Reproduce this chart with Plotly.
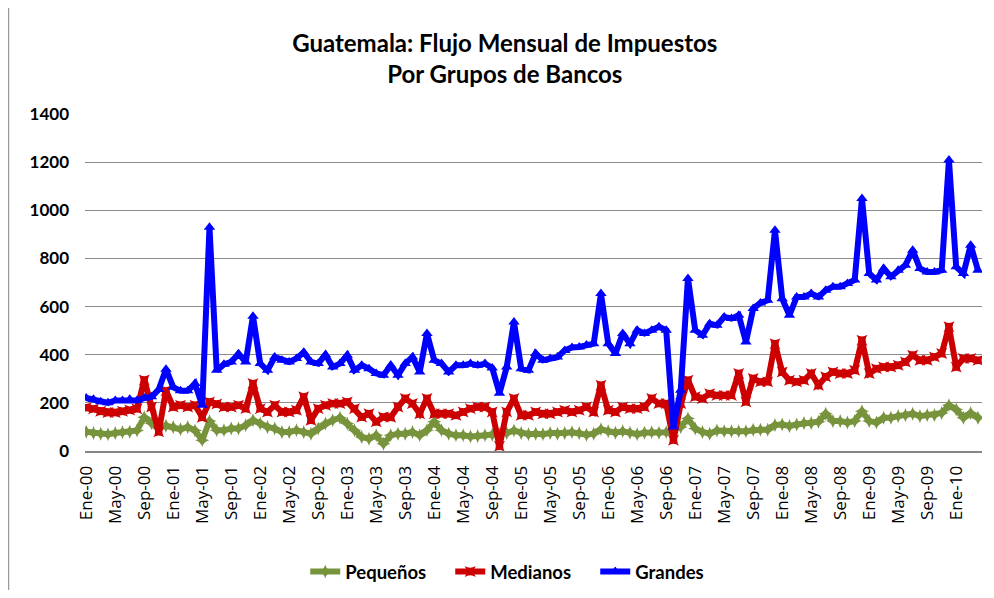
import plotly.graph_objects as go

meses = ["Ene", "Feb", "Mar", "Abr", "May", "Jun", "Jul", "Ago", "Sep", "Oct", "Nov", "Dic"]
anios = ["00", "01", "02", "03", "04", "05", "06", "07", "08", "09", "10"]
categorias = [f"{m}-{a}" for a in anios for m in meses][:124]
etiquetas = categorias[::4]

grandes = [
    220, 215, 205, 200, 210, 210, 215, 210, 220, 225, 255, 340,
    265, 250, 250, 280, 190, 930, 335, 360, 370, 404, 370, 560,
    363, 335, 390, 377, 370, 384, 410, 370, 363, 400, 349, 363,
    398, 335, 356, 342, 322, 315, 356, 315, 363, 391, 328, 488,
    377, 363, 328, 356, 356, 363, 356, 363, 345, 240, 349, 536,
    342, 335, 405, 377, 384, 390, 418, 430, 432, 440, 446, 654,
    446, 405, 488, 446, 502, 488, 502, 516, 502, 100, 252, 717,
    502, 481, 529, 522, 557, 550, 564, 453, 592, 615, 626, 917,
    633, 564, 640, 640, 654, 640, 668, 682, 682, 696, 710, 1049,
    737, 710, 758, 724, 751, 772, 834, 758, 744, 744, 751, 1209,
    765, 737, 855, 751,
]
medianos = [
    180, 175, 165, 160, 160, 165, 170, 175, 295, 183, 80, 250,
    183, 190, 183, 190, 140, 204, 195, 183, 183, 190, 176, 280,
    176, 162, 190, 162, 162, 169, 225, 128, 176, 190, 197, 197,
    204, 176, 141, 155, 121, 141, 140, 183, 218, 197, 155, 218,
    155, 155, 155, 148, 162, 176, 183, 183, 162, 20, 162, 218,
    148, 148, 162, 155, 155, 162, 169, 162, 169, 183, 162, 273,
    169, 162, 183, 176, 176, 183, 218, 197, 197, 45, 197, 294,
    225, 218, 238, 231, 231, 231, 322, 204, 301, 287, 287, 446,
    328, 294, 287, 294, 322, 273, 308, 328, 322, 322, 335, 460,
    322, 342, 349, 349, 356, 370, 398, 377, 377, 391, 405, 516,
    349, 384, 384, 377,
]
pequenos = [
    80, 75, 72, 70, 75, 78, 80, 85, 140, 115, 95, 105,
    100, 90, 100, 85, 45, 125, 86, 86, 93, 93, 107, 128,
    114, 100, 93, 79, 79, 86, 79, 72, 93, 114, 128, 138,
    114, 86, 58, 51, 65, 30, 65, 72, 72, 79, 65, 86,
    121, 86, 72, 65, 65, 60, 62, 65, 68, 70, 75, 85,
    75, 70, 72, 70, 75, 72, 75, 78, 75, 68, 72, 90,
    82, 76, 82, 76, 70, 76, 78, 76, 78, 90, 100, 135,
    93, 79, 72, 85, 82, 82, 82, 82, 88, 88, 88, 108,
    110, 104, 110, 116, 116, 122, 155, 125, 125, 118, 125, 165,
    125, 118, 138, 138, 145, 150, 155, 145, 150, 150, 158, 190,
    172, 138, 158, 138,
]

series = [
    ("Pequeños", pequenos, "#77933C", "star-diamond", 10),
    ("Medianos", medianos, "#CC0000", "star-square", 10),
    ("Grandes", grandes, "#0000FF", "triangle-up", 10),
]

fig = go.Figure()
for nombre, vals, color, simbolo, tam in series:
    fig.add_trace(go.Scatter(
        x=categorias, y=vals, name=nombre, mode="lines+markers",
        line=dict(color=color, width=6),
        marker=dict(color=color, symbol=simbolo, size=tam),
    ))

fig.update_layout(
    width=978, height=582,
    margin=dict(l=77, r=4, t=106, b=139, autoexpand=False),
    paper_bgcolor="white", plot_bgcolor="white",
    font=dict(family="Lato", color="black"),
    title=dict(
        text="<b>Guatemala: Flujo Mensual de Impuestos<br>Por Grupos de Bancos</b>",
        x=0.468, xanchor="center", xref="paper",
        y=0.925, yanchor="middle", yref="container",
        font=dict(family="Lato", size=24, color="black"),
    ),
    showlegend=True,
    legend=dict(
        orientation="h", x=0.488, xanchor="center",
        y=0.031, yanchor="middle", yref="container",
        font=dict(family="Lato", size=18.5, color="black", weight="bold"),
        entrywidth=100, itemwidth=30,
    ),
    shapes=[
        dict(type="line", xref="paper", yref="paper", x0=-0.0853, x1=-0.0853,
             y0=-0.43, y1=1.32, line=dict(color="#9A9A9A", width=1.5)),
    ],
)
fig.update_xaxes(
    type="category", categoryorder="array", categoryarray=categorias,
    range=[-0.17, 123.56], tickmode="array", tickvals=etiquetas, ticktext=etiquetas,
    tickangle=-90, tickfont=dict(family="Open Sans", size=17, color="black"),
    ticklabelstandoff=6,
    showgrid=False, showline=True, linecolor="#868686", linewidth=2,
    ticks="", zeroline=False,
)
fig.update_yaxes(
    range=[0, 1400], dtick=200, showgrid=True, gridcolor="#8C8C8C", gridwidth=1,
    tickfont=dict(family="Lato", size=17, color="black", weight="bold"),
    ticklabelstandoff=15, zeroline=False, showline=False, ticks="",
)

fig.write_html("out.html")
